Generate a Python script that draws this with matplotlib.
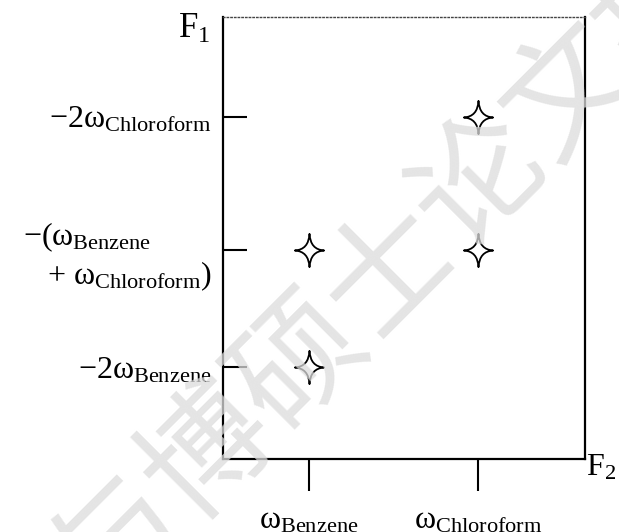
import matplotlib
matplotlib.use('Agg')
import matplotlib.pyplot as plt
from matplotlib.path import Path

plt.rcParams['font.family'] = ['Liberation Serif']
plt.rcParams['mathtext.fontset'] = 'custom'
plt.rcParams['mathtext.rm'] = 'Liberation Serif'
plt.rcParams['mathtext.it'] = 'Liberation Serif'
plt.rcParams['mathtext.bf'] = 'Liberation Serif:bold'

# F2 axis (x) and F1 axis (y) positions
x_pos = [1.0, 2.0]
x_labels = [r'$\omega_{\mathrm{Benzene}}$', r'$\omega_{\mathrm{Chloroform}}$']
y_pos = [1.0, 2.0, 3.14]
y_labels = [r'$-2\omega_{\mathrm{Benzene}}$',
            '$-(\\omega_{\\mathrm{Benzene}}$\n   + $\\omega_{\\mathrm{Chloroform}})$',
            r'$-2\omega_{\mathrm{Chloroform}}$']

# peaks (F2, F1)
peak_x = [2.0, 1.0, 2.0, 1.0]
peak_y = [3.14, 2.0, 2.0, 1.0]

# 4-pointed star marker
star = Path([(0, 1), (0.05, 0.05), (0.88, 0), (0.05, -0.05), (0, -1),
             (-0.05, -0.05), (-0.88, 0), (-0.05, 0.05), (0, 1), (0, 1)],
            [Path.MOVETO] + [Path.CURVE3] * 8 + [Path.CLOSEPOLY])

fig = plt.figure(figsize=(6.19, 5.32), dpi=100)
ax = fig.add_axes([0.360, 0.137, 0.585, 0.831])

ax.plot(peak_x, peak_y, linestyle='none', marker=star, markersize=24,
        markerfacecolor='white', markeredgecolor='black', markeredgewidth=1.3)

ax.set_xlim(0.491, 2.633)
ax.set_ylim(0.214, 3.99)

ax.set_xticks(x_pos)
ax.set_xticklabels(x_labels, fontsize=23)
ax.set_yticks(y_pos)
ax.set_yticklabels(y_labels, fontsize=23)
ax.tick_params(axis='x', direction='out', length=23, width=1.5, pad=11)
ax.tick_params(axis='y', direction='in', length=17, width=1.5, pad=8)
ax.get_yticklabels()[1].set_multialignment('left')

for side in ['left', 'bottom', 'right']:
    ax.spines[side].set_linewidth(1.6)
ax.spines['top'].set_linestyle(':')
ax.spines['top'].set_linewidth(1.0)
ax.spines['top'].set_color('#444444')

ax.text(-0.035, 0.972, r'$\mathrm{F}_1$', transform=ax.transAxes,
        fontsize=25, ha='right', va='center')
ax.text(1.004, -0.02, r'$\mathrm{F}_2$', transform=ax.transAxes,
        fontsize=23, ha='left', va='center')

# watermark
fig.text(390 / 619, 1 - 270 / 532, '与博硕士论文投', fontsize=92,
         family=['Noto Sans CJK SC'], color='#dcdcdc', alpha=0.75,
         rotation=45, rotation_mode='anchor', ha='center', va='center',
         zorder=10)

plt.savefig('out.png', dpi=100)
